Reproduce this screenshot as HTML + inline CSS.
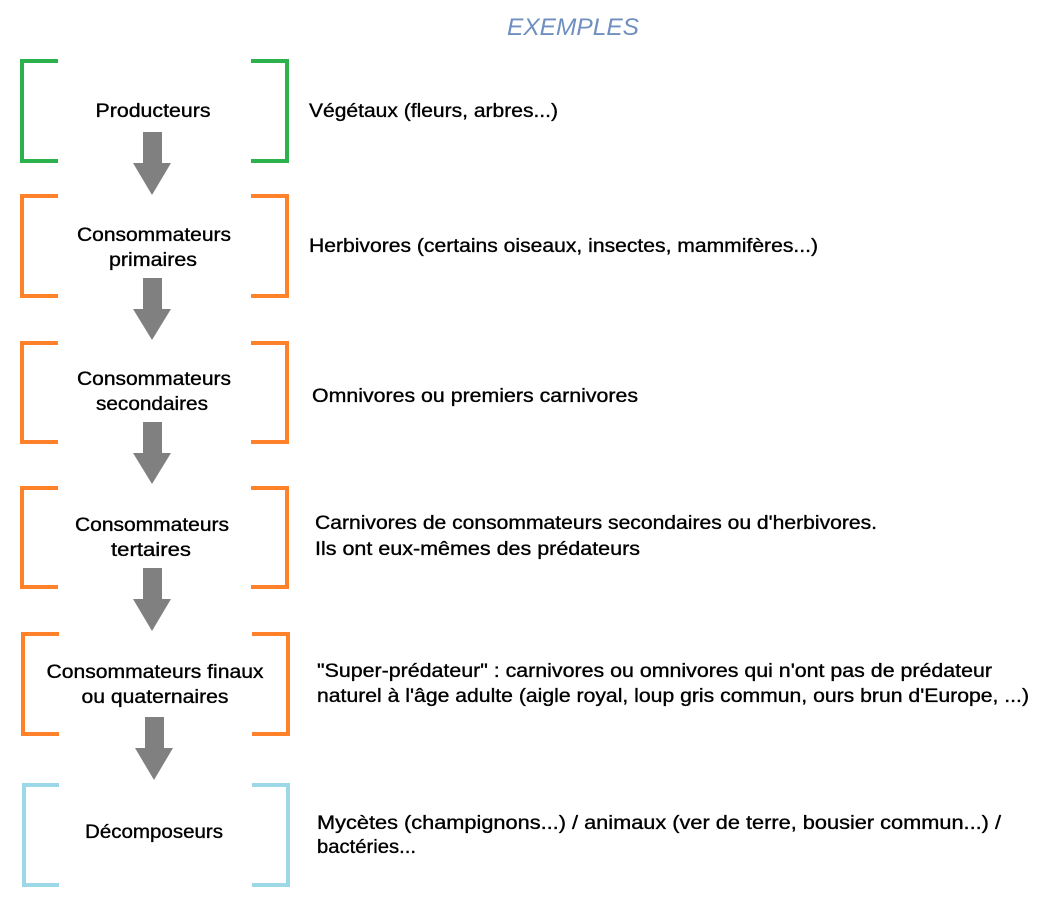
<!DOCTYPE html>
<html><head><meta charset="utf-8"><style>
html,body{margin:0;padding:0;background:#fff;}
svg{display:block;}
text{font-family:"Liberation Sans",sans-serif;font-size:19px;fill:#000;stroke:#000;stroke-width:0.35px;}
.l{text-anchor:middle;}
</style></head><body>
<svg width="1052" height="910" viewBox="0 0 1052 910" xmlns="http://www.w3.org/2000/svg">
<text x="573" y="35" class="l" style="font-style:italic;font-size:24px;fill:#6f8fc0;stroke:none" textLength="132" lengthAdjust="spacingAndGlyphs">EXEMPLES</text>
<g fill="none" stroke-width="4" stroke-linecap="butt">
<g stroke="#2bb24c">
<path d="M58 61H22V161H58"/><path d="M251 61H287V161H251"/>
</g>
<g stroke="#ff8129">
<path d="M58 196H22V296H58"/><path d="M251 196H287V296H251"/>
<path d="M58 343H22V442H58"/><path d="M251 343H287V442H251"/>
<path d="M58 488H22V587H58"/><path d="M251 488H287V587H251"/>
<path d="M59 634H23V734H59"/><path d="M252 634H288V734H252"/>
</g>
<g stroke="#9dd8e8">
<path d="M59 785H24V885H59"/><path d="M252 785H288V885H252"/>
</g>
</g>
<g fill="#808080">
<path d="M143 132H162V163H171L152 195L133 163H143Z"/>
<path d="M143 278H162V309H171L152 340L133 309H143Z"/>
<path d="M143 422H162V453H171L152 484L133 453H143Z"/>
<path d="M143 568H162V599H171L152 631L133 599H143Z"/>
<path d="M145 717H164V748H173L154 780L135 748H145Z"/>
</g>
<text x="153" y="117" class="l" textLength="115" lengthAdjust="spacingAndGlyphs">Producteurs</text>
<text x="154" y="241" class="l" textLength="154" lengthAdjust="spacingAndGlyphs">Consommateurs</text>
<text x="153" y="266" class="l" textLength="88" lengthAdjust="spacingAndGlyphs">primaires</text>
<text x="154" y="385" class="l" textLength="154" lengthAdjust="spacingAndGlyphs">Consommateurs</text>
<text x="152" y="410" class="l" textLength="112" lengthAdjust="spacingAndGlyphs">secondaires</text>
<text x="152" y="531" class="l" textLength="154" lengthAdjust="spacingAndGlyphs">Consommateurs</text>
<text x="151" y="556" class="l" textLength="80" lengthAdjust="spacingAndGlyphs">tertaires</text>
<text x="155" y="678" class="l" textLength="217" lengthAdjust="spacingAndGlyphs">Consommateurs finaux</text>
<text x="155" y="703" class="l" textLength="147" lengthAdjust="spacingAndGlyphs">ou quaternaires</text>
<text x="154" y="838" class="l" textLength="138" lengthAdjust="spacingAndGlyphs">Décomposeurs</text>

<text x="309" y="117" textLength="249" lengthAdjust="spacingAndGlyphs">Végétaux (fleurs, arbres...)</text>
<text x="309" y="252" textLength="509" lengthAdjust="spacingAndGlyphs">Herbivores (certains oiseaux, insectes, mammifères...)</text>
<text x="312" y="402" textLength="326" lengthAdjust="spacingAndGlyphs">Omnivores ou premiers carnivores</text>
<text x="315" y="529" textLength="562" lengthAdjust="spacingAndGlyphs">Carnivores de consommateurs secondaires ou d'herbivores.</text>
<text x="315" y="555" textLength="325" lengthAdjust="spacingAndGlyphs">Ils ont eux-mêmes des prédateurs</text>
<text x="317" y="677" textLength="675" lengthAdjust="spacingAndGlyphs">"Super-prédateur" : carnivores ou omnivores qui n'ont pas de prédateur</text>
<text x="317" y="702" textLength="712" lengthAdjust="spacingAndGlyphs">naturel à l'âge adulte (aigle royal, loup gris commun, ours brun d'Europe, ...)</text>
<text x="317" y="829" textLength="684" lengthAdjust="spacingAndGlyphs">Mycètes (champignons...) / animaux (ver de terre, bousier commun...) /</text>
<text x="317" y="853" textLength="99" lengthAdjust="spacingAndGlyphs">bactéries...</text>
</svg>
</body></html>
